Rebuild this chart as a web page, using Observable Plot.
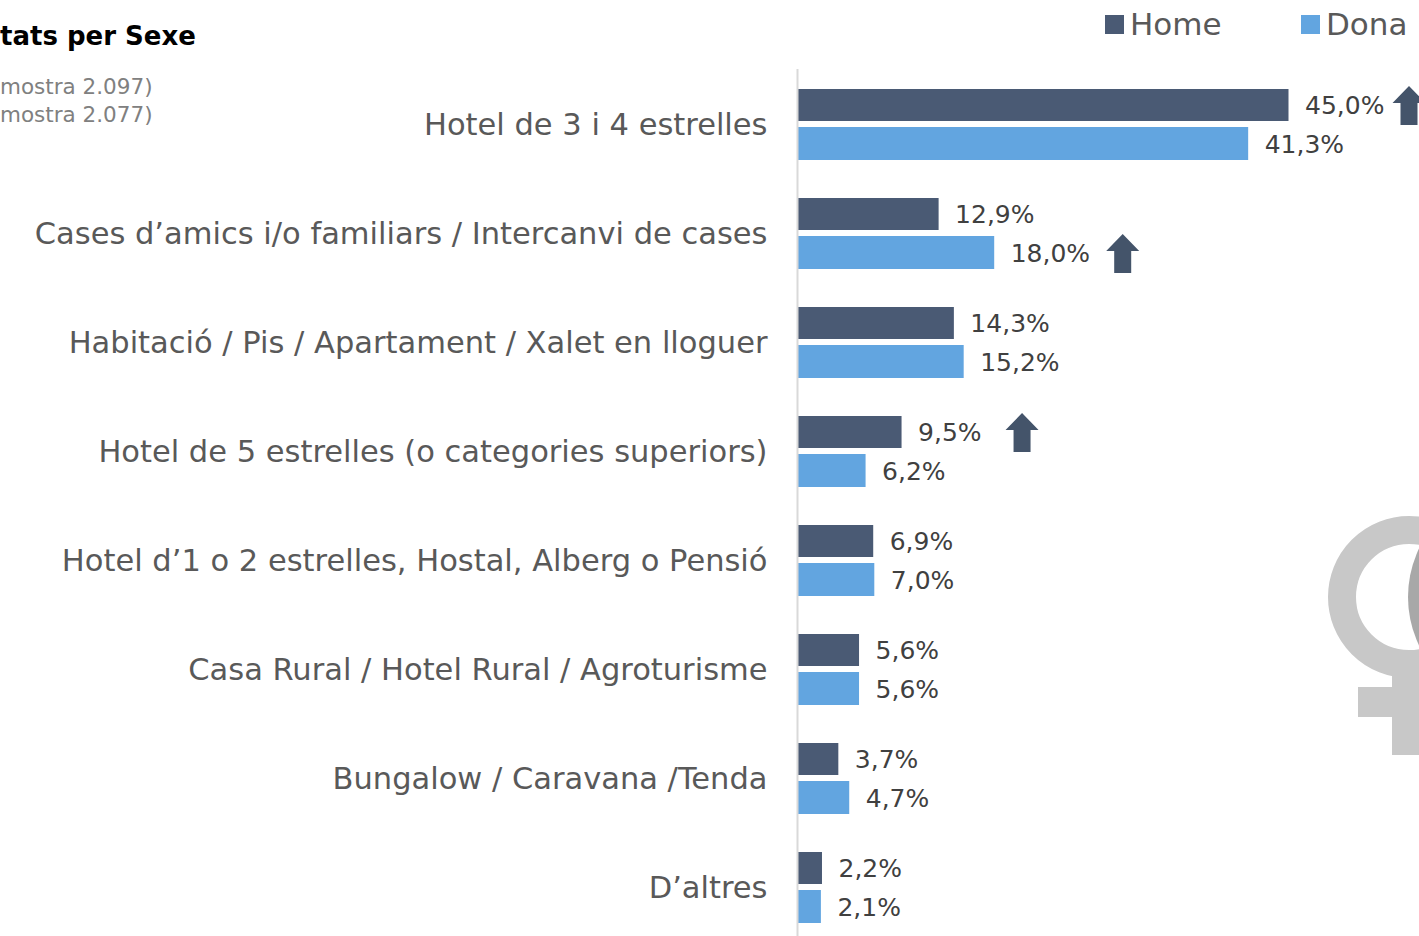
<!DOCTYPE html>
<html>
<head>
<meta charset="utf-8">
<script src="https://cdn.jsdelivr.net/npm/d3@7"></script>
<script src="https://cdn.jsdelivr.net/npm/@observablehq/plot@0.6"></script>
<style>
  html, body { margin: 0; padding: 0; background: #fff; overflow: hidden; }
  #wrap { position: relative; width: 1419px; height: 936px; overflow: hidden; font-family: "DejaVu Sans", sans-serif; }
  #deco, #chart, #overlay { position: absolute; left: 0; top: 0; }
  #overlay { pointer-events: none; }
</style>
</head>
<body>
<div id="wrap">
  <svg id="deco" width="1419" height="936"></svg>
  <div id="chart"></div>
  <svg id="overlay" width="1419" height="936"></svg>
</div>
<script>
// ---- data ----
const categories = [
  "Hotel de 3 i 4 estrelles",
  "Cases d’amics i/o familiars / Intercanvi de cases",
  "Habitació / Pis / Apartament / Xalet en lloguer",
  "Hotel de 5 estrelles (o categories superiors)",
  "Hotel d’1 o 2 estrelles, Hostal, Alberg o Pensió",
  "Casa Rural / Hotel Rural / Agroturisme",
  "Bungalow / Caravana /Tenda",
  "D’altres"
];
const series = ["Home", "Dona"];
const homeValues = [45.0, 12.9, 14.3, 9.5, 6.9, 5.6, 3.7, 2.2];
const donaValues = [41.3, 18.0, 15.2, 6.2, 7.0, 5.6, 4.7, 2.1];
// significant increases (arrows)
const arrowCategories = ["Hotel de 3 i 4 estrelles", "Cases d’amics i/o familiars / Intercanvi de cases", "Hotel de 5 estrelles (o categories superiors)"];
const arrowSeries = ["Home", "Dona", "Home"];
const titleText = "tats per Sexe";
const subtitleLines = ["mostra 2.097)", "mostra 2.077)"];

// ---- build rows ----
const rows = [];
categories.forEach((c, i) => {
  rows.push({cat: c, sexe: "Home", value: homeValues[i]});
  rows.push({cat: c, sexe: "Dona", value: donaValues[i]});
});
const homeRows = rows.filter(d => d.sexe === "Home");
const donaRows = rows.filter(d => d.sexe === "Dona");
const arrowRows = arrowCategories.map((c, i) => rows.find(d => d.cat === c && d.sexe === arrowSeries[i]));
const arrowHome = arrowRows.filter(d => d.sexe === "Home");
const arrowDona = arrowRows.filter(d => d.sexe === "Dona");
const fmt = d => d.value.toFixed(1).replace(".", ",") + "%";

const colHome = "#4a5a74";
const colDona = "#62a5e0";
const colArrow = "#44546a";

const arrowSymbol = {
  draw(ctx) {
    ctx.moveTo(0, -19.5);
    ctx.lineTo(16.5, -2.5);
    ctx.lineTo(8.5, -2.5);
    ctx.lineTo(8.5, 19.5);
    ctx.lineTo(-8.5, 19.5);
    ctx.lineTo(-8.5, -2.5);
    ctx.lineTo(-16.5, -2.5);
    ctx.closePath();
  }
};

const chart = Plot.plot({
  width: 1419,
  height: 943,
  marginTop: 69,
  marginBottom: 0,
  marginLeft: 798,
  marginRight: 76,
  style: {fontFamily: "DejaVu Sans, sans-serif", fontSize: "30.5px", color: "#595959", background: "transparent", overflow: "visible"},
  x: {domain: [0, 50], axis: null},
  y: {domain: categories, padding: 0, label: null, tickSize: 0, tickPadding: 31},
  marks: [
    Plot.barX(homeRows, {x: "value", y: "cat", fill: colHome, insetTop: 19, insetBottom: 58}),
    Plot.barX(donaRows, {x: "value", y: "cat", fill: colDona, insetTop: 57, insetBottom: 19}),
    Plot.ruleX([0], {stroke: "#d9d9d9", strokeWidth: 2, dx: -1}),
    Plot.text(homeRows, {x: "value", y: "cat", text: fmt, dx: 16, dy: -19.5, textAnchor: "start", fontSize: 25, fill: "#404040"}),
    Plot.text(donaRows, {x: "value", y: "cat", text: fmt, dx: 16, dy: 19.5, textAnchor: "start", fontSize: 25, fill: "#404040"}),
    Plot.dot(arrowHome, {x: "value", y: "cat", dx: 120, dy: -19.5, symbol: arrowSymbol, fill: colArrow, stroke: "none"}),
    Plot.dot(arrowDona, {x: "value", y: "cat", dx: 128, dy: 19.5, symbol: arrowSymbol, fill: colArrow, stroke: "none"})
  ]
});
document.getElementById("chart").appendChild(chart);

// ---- decoration (female symbol image) ----
const deco = d3.select("#deco");
deco.append("circle").attr("cx", 1520).attr("cy", 597).attr("r", 112).attr("fill", "#a8a8a8");
deco.append("circle").attr("cx", 1409).attr("cy", 597).attr("r", 67).attr("fill", "none").attr("stroke", "#c8c8c8").attr("stroke-width", 28);
deco.append("rect").attr("x", 1392).attr("y", 675).attr("width", 34).attr("height", 80).attr("fill", "#c8c8c8");
deco.append("rect").attr("x", 1358).attr("y", 687).attr("width", 102).attr("height", 30).attr("fill", "#c8c8c8");

// ---- title, subtitle, legend ----
const ov = d3.select("#overlay").style("font-family", "DejaVu Sans, sans-serif");
ov.append("text").attr("x", 0).attr("y", 45).attr("font-size", 26).attr("font-weight", "bold").attr("fill", "#000").text(titleText);
subtitleLines.forEach((t, i) => {
  ov.append("text").attr("x", 0).attr("y", 94 + i * 28).attr("font-size", 21.5).attr("fill", "#808080").text(t);
});
const legendX = [1105, 1301];
const legendColors = [colHome, colDona];
series.forEach((s, i) => {
  ov.append("rect").attr("x", legendX[i]).attr("y", 15).attr("width", 19).attr("height", 19).attr("fill", legendColors[i]);
  ov.append("text").attr("x", legendX[i] + 25).attr("y", 35).attr("font-size", 31).attr("fill", "#595959").text(s);
});
</script>
</body>
</html>
